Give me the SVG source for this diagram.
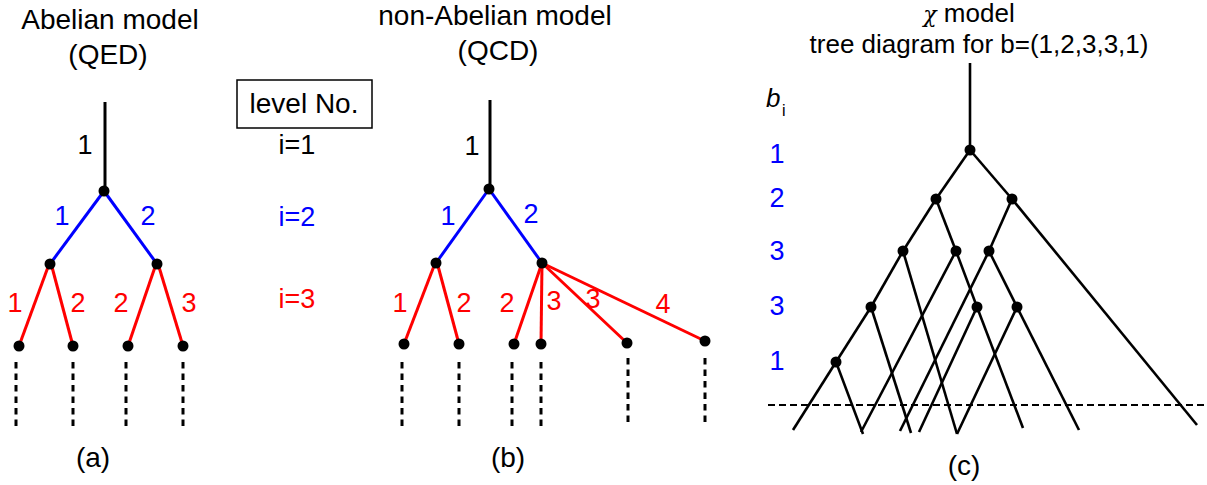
<svg xmlns="http://www.w3.org/2000/svg" width="1207" height="485" viewBox="0 0 1207 485">
<style>
text{font-family:"Liberation Sans",Arial,sans-serif;fill:#000}
.t{font-size:28px;text-anchor:middle}
.l{font-size:27px;text-anchor:middle}
.b{fill:#0000ff}
.r{fill:#ff0000}
.k{stroke:#000;stroke-width:3;fill:none}
.kb{stroke:#0000ff;stroke-width:3;fill:none}
.kr{stroke:#ff0000;stroke-width:3;fill:none}
.kc{stroke:#000;stroke-width:2.6;fill:none;stroke-linecap:butt}
.d{stroke:#000;stroke-width:3;stroke-dasharray:6.5 5;fill:none}
.dh{stroke:#000;stroke-width:2;stroke-dasharray:7 4;fill:none}
.n{fill:#000}
</style>
<rect width="1207" height="485" fill="#fff"/>

<!-- Panel (a) -->
<g id="panel-a-labels">
<text class="t" x="110" y="29">Abelian model</text>
<text class="t" x="108" y="64">(QED)</text>
<text class="l" x="85" y="154">1</text>
<text class="l b" x="62" y="225">1</text>
<text class="l b" x="148" y="225">2</text>
<text class="l r" x="15" y="312">1</text>
<text class="l r" x="78" y="312">2</text>
<text class="l r" x="121" y="312">2</text>
<text class="l r" x="189" y="312">3</text>
<text class="t" x="93" y="467">(a)</text>
</g>
<g id="connectors-a">
<line class="k" x1="105" y1="102" x2="105" y2="191"/>
<line class="kb" x1="104" y1="191" x2="50" y2="264"/>
<line class="kb" x1="104" y1="191" x2="157" y2="264"/>
<line class="kr" x1="48" y1="267" x2="19" y2="346"/>
<line class="kr" x1="52" y1="267" x2="73" y2="346"/>
<line class="kr" x1="155" y1="267" x2="128" y2="346"/>
<line class="kr" x1="159" y1="267" x2="183" y2="346"/>
<line class="d" x1="16" y1="362" x2="16" y2="428"/>
<line class="d" x1="73" y1="362" x2="73" y2="428"/>
<line class="d" x1="126" y1="362" x2="126" y2="428"/>
<line class="d" x1="183" y1="362" x2="183" y2="428"/>
</g>
<g id="nodes-a">
<circle class="n" cx="104" cy="191" r="5.5"/>
<circle class="n" cx="50" cy="264" r="5.5"/>
<circle class="n" cx="157" cy="264" r="5.5"/>
<circle class="n" cx="19" cy="346" r="5.5"/>
<circle class="n" cx="73" cy="346" r="5.5"/>
<circle class="n" cx="128" cy="346" r="5.5"/>
<circle class="n" cx="183" cy="346" r="5.5"/>
</g>

<!-- Level box -->
<g id="level-box">
<rect x="237" y="80" width="135" height="48" fill="#fff" stroke="#000" stroke-width="1.5"/>
<text class="t" x="304" y="113">level No.</text>
<text class="l" x="297" y="154">i=1</text>
<text class="l b" x="297" y="226">i=2</text>
<text class="l r" x="297" y="308">i=3</text>
</g>

<!-- Panel (b) -->
<g id="panel-b-labels">
<text class="t" x="495" y="25">non-Abelian model</text>
<text class="t" x="498" y="60">(QCD)</text>
<text class="l" x="472" y="155">1</text>
<text class="l b" x="448" y="225">1</text>
<text class="l b" x="531" y="223">2</text>
<text class="l r" x="400" y="312">1</text>
<text class="l r" x="464" y="312">2</text>
<text class="l r" x="507" y="312">2</text>
<text class="l r" x="554" y="310">3</text>
<text class="l r" x="593" y="308">3</text>
<text class="l r" x="663" y="313">4</text>
<text class="t" x="508" y="467">(b)</text>
</g>
<g id="connectors-b">
<line class="k" x1="490" y1="100" x2="490" y2="189"/>
<line class="kb" x1="489" y1="189" x2="436" y2="263"/>
<line class="kb" x1="489" y1="189" x2="542" y2="263"/>
<line class="kr" x1="434" y1="266" x2="404" y2="344"/>
<line class="kr" x1="438" y1="266" x2="459" y2="344"/>
<line class="kr" x1="542" y1="263" x2="514" y2="344"/>
<line class="kr" x1="542" y1="263" x2="541" y2="344"/>
<line class="kr" x1="542" y1="263" x2="627" y2="343"/>
<line class="kr" x1="542" y1="263" x2="705" y2="341"/>
<line class="d" x1="402" y1="362" x2="402" y2="428"/>
<line class="d" x1="459" y1="362" x2="459" y2="428"/>
<line class="d" x1="512" y1="362" x2="512" y2="428"/>
<line class="d" x1="541" y1="362" x2="541" y2="428"/>
<line class="d" x1="628" y1="358" x2="628" y2="424"/>
<line class="d" x1="705" y1="358" x2="705" y2="424"/>
</g>
<g id="nodes-b">
<circle class="n" cx="489" cy="189" r="5.5"/>
<circle class="n" cx="436" cy="263" r="5.5"/>
<circle class="n" cx="542" cy="263" r="5.5"/>
<circle class="n" cx="404" cy="344" r="5.5"/>
<circle class="n" cx="459" cy="344" r="5.5"/>
<circle class="n" cx="514" cy="344" r="5.5"/>
<circle class="n" cx="541" cy="344" r="5.5"/>
<circle class="n" cx="627" cy="343" r="5.5"/>
<circle class="n" cx="705" cy="341" r="5.5"/>
</g>

<!-- Panel (c) -->
<g id="panel-c-labels">
<text x="969" y="22" style="font-size:26px;text-anchor:middle"><tspan style="font-family:'DejaVu Serif',serif;font-style:italic;font-size:22px">χ</tspan> model</text>
<text x="979" y="53" style="font-size:26px;text-anchor:middle">tree diagram for b=(1,2,3,3,1)</text>
<text x="766" y="107" style="font-size:26px;font-style:italic">b</text>
<text x="782" y="116" style="font-size:16px">i</text>
<text class="l b" x="777" y="163">1</text>
<text class="l b" x="777" y="207">2</text>
<text class="l b" x="777" y="260">3</text>
<text class="l b" x="777" y="315">3</text>
<text class="l b" x="777" y="370">1</text>
<text class="t" x="964" y="475">(c)</text>
</g>
<g id="connectors-c">
<line class="kc" x1="970" y1="63" x2="970" y2="150"/>
<line class="kc" x1="970" y1="150" x2="936" y2="199"/>
<line class="kc" x1="970" y1="150" x2="1012" y2="199"/>
<line class="kc" x1="936" y1="199" x2="903" y2="251"/>
<line class="kc" x1="936" y1="199" x2="956" y2="251"/>
<line class="kc" x1="1012" y1="199" x2="989" y2="251"/>
<line class="kc" x1="1012" y1="199" x2="1197" y2="425"/>
<line class="kc" x1="903" y1="251" x2="871" y2="307"/>
<line class="kc" x1="903" y1="251" x2="957" y2="434"/>
<line class="kc" x1="956" y1="251" x2="861" y2="432"/>
<line class="kc" x1="956" y1="251" x2="977" y2="307"/>
<line class="kc" x1="989" y1="251" x2="900" y2="431"/>
<line class="kc" x1="989" y1="251" x2="1017" y2="307"/>
<line class="kc" x1="871" y1="307" x2="836" y2="362"/>
<line class="kc" x1="871" y1="307" x2="911" y2="433"/>
<line class="kc" x1="977" y1="307" x2="919" y2="432"/>
<line class="kc" x1="977" y1="307" x2="1023" y2="428"/>
<line class="kc" x1="1017" y1="307" x2="957" y2="434"/>
<line class="kc" x1="1017" y1="307" x2="1079" y2="430"/>
<line class="kc" x1="836" y1="362" x2="793" y2="430"/>
<line class="kc" x1="836" y1="362" x2="863" y2="434"/>
<line class="dh" x1="768" y1="405" x2="1207" y2="405"/>
</g>
<g id="nodes-c">
<circle class="n" cx="970" cy="150" r="5.5"/>
<circle class="n" cx="936" cy="199" r="5.5"/>
<circle class="n" cx="1012" cy="199" r="5.5"/>
<circle class="n" cx="903" cy="251" r="5.5"/>
<circle class="n" cx="956" cy="251" r="5.5"/>
<circle class="n" cx="989" cy="251" r="5.5"/>
<circle class="n" cx="871" cy="307" r="5.5"/>
<circle class="n" cx="977" cy="307" r="5.5"/>
<circle class="n" cx="1017" cy="307" r="5.5"/>
<circle class="n" cx="836" cy="362" r="5.5"/>
</g>
</svg>
